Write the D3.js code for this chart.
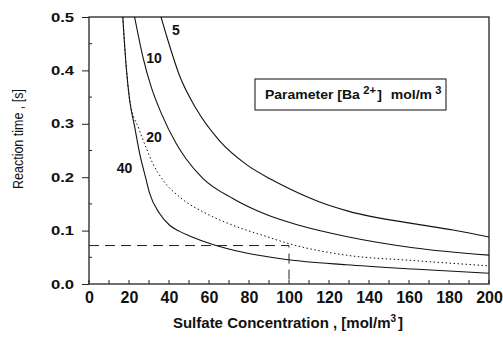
<!DOCTYPE html>
<html>
<head>
<meta charset="utf-8">
<script src="https://cdn.jsdelivr.net/npm/d3@7"></script>
<style>
  body { margin: 0; background: #fff; }
  text { font-family: "Liberation Sans", Arial, sans-serif; fill: #111; }
</style>
</head>
<body>
<div id="chart"></div>
<script>
const ancho = 503
const alto = 341
const margen = { superior: 17, inferior: 57, izquierdo: 89, derecho: 14 }

// datos: concentracion de sulfato [mol/m3] vs tiempo [s]
const conc5 = [36, 38.6, 45.3, 53.6, 65.3, 78.6, 91, 95, 115, 130, 162, 182, 200]
const tiempo5 = [0.5, 0.467, 0.39, 0.328, 0.268, 0.224, 0.196, 0.188, 0.154, 0.136, 0.113, 0.101, 0.088]

const conc10 = [22.8, 26.9, 31.1, 36.1, 43.6, 48.6, 56.9, 71.9, 88.6, 105, 128.6, 162, 200]
const tiempo10 = [0.5, 0.426, 0.369, 0.32, 0.263, 0.234, 0.198, 0.160, 0.130, 0.11, 0.089, 0.068, 0.054]

const conc20 = [16.9, 18.6, 20.3, 25, 28.6, 32, 36.9, 45.3, 58.6, 71.9, 88.6, 98.6, 128.6, 162, 200]
const tiempo20 = [0.5, 0.407, 0.345, 0.29, 0.255, 0.225, 0.195, 0.163, 0.132, 0.11, 0.089, 0.077, 0.054, 0.044, 0.034]

const conc40 = [16.9, 18.6, 20.3, 22.8, 25.3, 28.6, 30.3, 35.3, 40.3, 45, 50.3, 61.9, 78.6, 98.6, 128.6, 162, 200]
const tiempo40 = [0.5, 0.407, 0.345, 0.295, 0.245, 0.195, 0.17, 0.132, 0.11, 0.099, 0.09, 0.074, 0.058, 0.046, 0.036, 0.028, 0.02]

const etiquetas = ["5", "10", "20", "40"]
const posEtiquetas = [[43.5, 0.466], [32.5, 0.414], [32.5, 0.266], [17.75, 0.208]]

const ticksX = d3.range(0, 201, 20)
const ticksXmenores = d3.range(0, 201, 10)
const ticksY = [0, 0.1, 0.2, 0.3, 0.4, 0.5]
const ticksYmenores = [0.05, 0.15, 0.25, 0.35, 0.45]

// linea de referencia (t = 0.072 s a 100 mol/m3)
const refConc = 100
const refTiempo = 0.072

const curvas = [
  { conc: conc5, tiempo: tiempo5, punteada: false },
  { conc: conc10, tiempo: tiempo10, punteada: false },
  { conc: conc20, tiempo: tiempo20, punteada: true },
  { conc: conc40, tiempo: tiempo40, punteada: false }
]

const svg = d3.select("#chart").append("svg")
  .attr("width", ancho)
  .attr("height", alto)

const anchoG = ancho - margen.izquierdo - margen.derecho
const altoG = alto - margen.superior - margen.inferior

const x = d3.scaleLinear().domain([0, 200]).range([0, anchoG])
const y = d3.scaleLinear().domain([0, 0.5]).range([altoG, 0])

const g = svg.append("g")
  .attr("transform", `translate(${margen.izquierdo},${margen.superior})`)

g.append("clipPath").attr("id", "recorte")
  .append("rect").attr("width", anchoG).attr("height", altoG)

// ensancha el texto como en el escaneo original
function estirar(sel, factor) {
  sel.each(function() {
    const largo = this.getComputedTextLength()
    d3.select(this).attr("textLength", largo * factor).attr("lengthAdjust", "spacingAndGlyphs")
  })
}

// ejes
const ejeX = d3.axisBottom(x).tickValues(ticksX).tickSize(0).tickPadding(8)
  .tickFormat(d3.format("d"))
const ejeY = d3.axisLeft(y).tickValues(ticksY).tickSizeInner(7).tickSizeOuter(0)
  .tickPadding(8).tickFormat(d3.format(".1f"))

const grupoX = g.append("g").attr("transform", `translate(0,${altoG})`).call(ejeX)
grupoX.select(".domain").remove()
grupoX.selectAll("text").style("font-size", "16px").style("font-weight", "bold")
  .attr("dy", "0.71em")

const grupoY = g.append("g").call(ejeY)
grupoY.select(".domain").remove()
grupoY.selectAll("text").style("font-size", "13px").style("font-weight", "bold")
  .call(estirar, 1.28)
grupoY.selectAll("line").attr("stroke", "#222")

// marcas menores hacia dentro
g.append("g").selectAll("line").data(ticksXmenores).join("line")
  .attr("x1", d => x(d)).attr("x2", d => x(d))
  .attr("y1", altoG).attr("y2", altoG - 4)
  .attr("stroke", "#222")

g.append("g").selectAll("line").data(ticksYmenores).join("line")
  .attr("x1", 0).attr("x2", 3)
  .attr("y1", d => y(d)).attr("y2", d => y(d))
  .attr("stroke", "#222")

// marco
g.append("rect")
  .attr("width", anchoG).attr("height", altoG)
  .attr("fill", "none").attr("stroke", "#222").attr("stroke-width", 1.3)

// curvas
const linea = d3.line()
  .x(d => x(d[0]))
  .y(d => y(d[1]))
  .curve(d3.curveMonotoneX)

g.append("g").attr("clip-path", "url(#recorte)")
  .selectAll("path").data(curvas).join("path")
  .attr("d", c => linea(c.conc.map((v, i) => [v, c.tiempo[i]])))
  .attr("fill", "none")
  .attr("stroke", "#111")
  .attr("stroke-width", d => d.punteada ? 1 : 1.1)
  .attr("stroke-dasharray", d => d.punteada ? "1.5,2.5" : null)

// referencia discontinua
g.append("path")
  .attr("d", d3.line()([[x(0), y(refTiempo)], [x(refConc), y(refTiempo)], [x(refConc), y(0)]]))
  .attr("fill", "none").attr("stroke", "#222").attr("stroke-width", 1)
  .attr("stroke-dasharray", "10,6")

// etiquetas de curvas
g.append("g").selectAll("text").data(etiquetas).join("text")
  .attr("x", (d, i) => x(posEtiquetas[i][0]))
  .attr("y", (d, i) => y(posEtiquetas[i][1]))
  .attr("text-anchor", "middle")
  .style("font-size", "14px").style("font-weight", "bold")
  .text(d => d)

// leyenda
g.append("rect")
  .attr("x", 166).attr("y", 62).attr("width", 191).attr("height", 31)
  .attr("fill", "none").attr("stroke", "#222").attr("stroke-width", 1.1)

const leyenda = g.append("text")
  .attr("transform", "translate(176,82) scale(1.12,1)")
  .style("font-size", "12.5px").style("font-weight", "bold")
leyenda.append("tspan").text("Parameter [Ba")
leyenda.append("tspan").attr("dx", 3).attr("dy", -5).style("font-size", "10px").text("2+")
leyenda.append("tspan").attr("dx", 1).attr("dy", 5).text("]")
leyenda.append("tspan").attr("dx", 8).text("mol/m")
leyenda.append("tspan").attr("dx", 3).attr("dy", -5).style("font-size", "10px").text("3")

// titulos de ejes
const tituloX = svg.append("text")
  .attr("x", 288).attr("y", 328)
  .attr("text-anchor", "middle")
  .style("font-size", "15px").style("font-weight", "bold")
tituloX.append("tspan").text("Sulfate Concentration , [mol/m")
tituloX.append("tspan").attr("dy", -6).style("font-size", "10px").text("3")
tituloX.append("tspan").attr("dx", 2).attr("dy", 6).text("]")

svg.append("text")
  .attr("transform", "translate(23,139) rotate(-90) scale(1,1.2)")
  .attr("text-anchor", "middle")
  .style("font-size", "12.5px")
  .text("Reaction time , [s]")
</script>
</body>
</html>
